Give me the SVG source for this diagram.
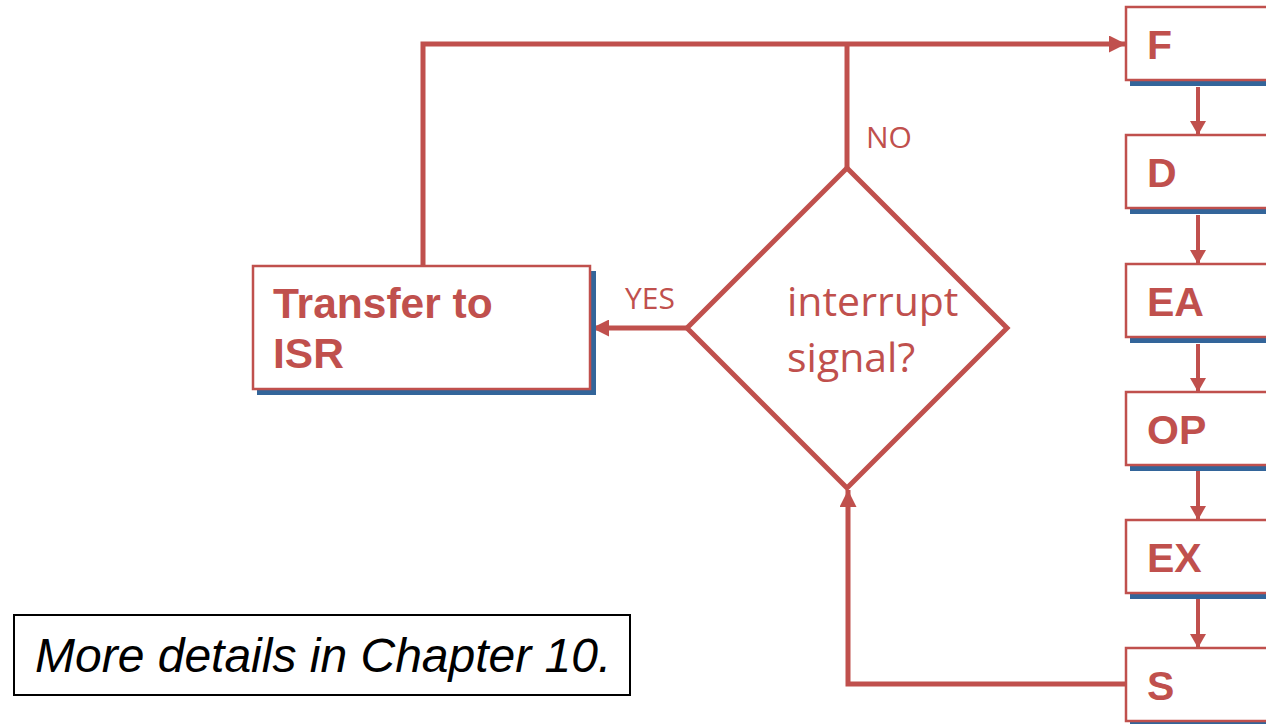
<svg xmlns="http://www.w3.org/2000/svg" width="1266" height="724" viewBox="0 0 1266 724">
  <style>
    .box { fill: #ffffff; stroke: #C0504D; stroke-width: 2.5; }
    .shadow { fill: #33659A; }
    .stage { font-family: "Liberation Sans", Arial, sans-serif; font-weight: bold; font-size: 41px; fill: #C0504D; }
    .label { font-family: "Open Sans", "Noto Sans", sans-serif; font-size: 30px; fill: #C0504D; }
    .cond { font-family: "Open Sans", "Noto Sans", sans-serif; font-size: 41px; fill: #C0504D; }
    .flow { fill: none; stroke: #C0504D; stroke-width: 5; stroke-linejoin: miter; }
    .step { fill: none; stroke: #C0504D; stroke-width: 4; }
    .note { font-family: "Liberation Sans", Arial, sans-serif; font-style: italic; font-size: 48px; fill: #000000; }
  </style>
  <defs>
    <marker id="bigArrow" markerUnits="userSpaceOnUse" markerWidth="17" markerHeight="17" refX="17" refY="8.5" orient="auto">
      <path d="M0,0 L17,8.5 L0,17 Z" fill="#C0504D"/>
    </marker>
    <marker id="smallArrow" markerUnits="userSpaceOnUse" markerWidth="14" markerHeight="16" refX="14" refY="8" orient="auto">
      <path d="M0,0 L14,8 L0,16 Z" fill="#C0504D"/>
    </marker>
  </defs>

  <rect width="1266" height="724" fill="#ffffff"/>

  <!-- connectors -->
  <g id="connectors">
    <path class="flow" d="M423,266 V44 H1126" marker-end="url(#bigArrow)"/>
    <path class="flow" d="M847,168 V44"/>
    <path class="flow" d="M687,328 H592" marker-end="url(#bigArrow)"/>
    <path class="flow" d="M1126,684 H848 V490" marker-end="url(#bigArrow)"/>
    <path class="step" d="M1198,87 V135" marker-end="url(#smallArrow)"/>
    <path class="step" d="M1198,215 V264" marker-end="url(#smallArrow)"/>
    <path class="step" d="M1198,344 V392" marker-end="url(#smallArrow)"/>
    <path class="step" d="M1198,471 V520" marker-end="url(#smallArrow)"/>
    <path class="step" d="M1198,599 V648" marker-end="url(#smallArrow)"/>
  </g>

  <!-- instruction cycle stages -->
  <g id="stage-F">
    <rect class="shadow" x="1130" y="12" width="200" height="74"/>
    <rect class="box" x="1126" y="7" width="200" height="73"/>
    <text class="stage" x="1147" y="59">F</text>
  </g>
  <g id="stage-D">
    <rect class="shadow" x="1130" y="140" width="200" height="74"/>
    <rect class="box" x="1126" y="135" width="200" height="73"/>
    <text class="stage" x="1147" y="187">D</text>
  </g>
  <g id="stage-EA">
    <rect class="shadow" x="1130" y="269" width="200" height="74"/>
    <rect class="box" x="1126" y="264" width="200" height="73"/>
    <text class="stage" x="1147" y="316">EA</text>
  </g>
  <g id="stage-OP">
    <rect class="shadow" x="1130" y="397" width="200" height="74"/>
    <rect class="box" x="1126" y="392" width="200" height="73"/>
    <text class="stage" x="1147" y="444">OP</text>
  </g>
  <g id="stage-EX">
    <rect class="shadow" x="1130" y="525" width="200" height="74"/>
    <rect class="box" x="1126" y="520" width="200" height="73"/>
    <text class="stage" x="1147" y="572">EX</text>
  </g>
  <g id="stage-S">
    <rect class="shadow" x="1130" y="653" width="200" height="74"/>
    <rect class="box" x="1126" y="648" width="200" height="73"/>
    <text class="stage" x="1147" y="700">S</text>
  </g>

  <!-- interrupt decision -->
  <g id="decision">
    <path d="M847,168 L1007,328 L847,488 L687,328 Z" fill="#ffffff" stroke="#C0504D" stroke-width="5"/>
    <text class="cond" x="787" y="316">interrupt</text>
    <text class="cond" x="787" y="372">signal?</text>
  </g>

  <!-- branch labels -->
  <text class="label" x="866" y="148">NO</text>
  <text class="label" x="625" y="309">YES</text>

  <!-- service routine transfer -->
  <g id="transfer-isr">
    <rect class="shadow" x="257" y="271" width="339" height="124"/>
    <rect class="box" x="253" y="266" width="337" height="123"/>
    <text class="stage" x="273" y="318" style="font-size:42.5px">Transfer to</text>
    <text class="stage" x="273" y="368" style="font-size:42.5px">ISR</text>
  </g>

  <!-- note -->
  <g id="note">
    <rect x="14" y="615" width="616" height="80" fill="#ffffff" stroke="#000000" stroke-width="2"/>
    <text class="note" x="35" y="672">More details in Chapter 10.</text>
  </g>
</svg>
